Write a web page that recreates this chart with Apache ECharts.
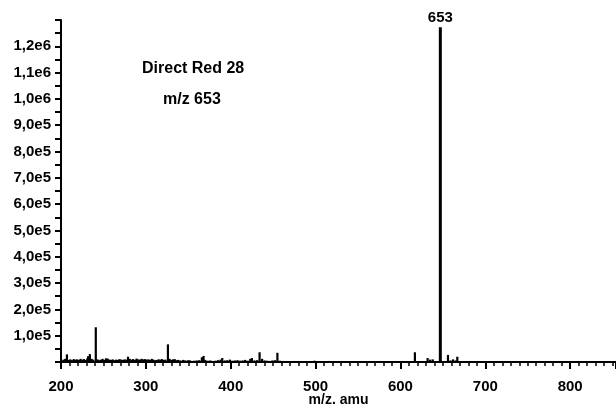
<!DOCTYPE html>
<html>
<head>
<meta charset="utf-8">
<script src="https://cdn.jsdelivr.net/npm/echarts@6/dist/echarts.min.js"></script>
<style>html,body{margin:0;padding:0;background:#fff;}#c{width:616px;height:408px;}</style>
</head>
<body>
<div id="c"></div>
<script>
// m/z positions of the sticks (as placed on the drawn axis)
const mzValues = [201,203,205,207,209,211,213,215,217,219,221,223,225,227,229,231,232,234,236,238,241,243,245,247,249,251,253,255,257,259,261,263,265,267,269,271,273,275,277,279,281,283,285,287,289,291,293,295,297,299,301,303,305,307,309,311,313,315,317,319,321,323,326,328,330,332,334,336,338,340,342,344,346,348,350,352,354,357,360,363,366,368,370,373,376,379,382,385,388,390,393,396,399,402,405,408,411,414,417,420,423,425,428,431,434,437,440,443,446,449,452,455,458,462,466,473,490,499,516,617,632,635,638,647,652,656,659,662,665,667,670];
// intensities (counts)
const intensities = [6000,9000,12000,29000,8000,10000,7000,11000,9000,10000,8000,12000,9000,11000,8000,14000,22000,30000,12000,9000,132000,10000,7000,9000,12000,8000,14000,13000,9000,8000,10000,7000,9000,8000,11000,9000,8000,10000,9000,20000,12000,9000,11000,8000,13000,10000,9000,12000,10000,11000,9000,10000,8000,12000,9000,7000,8000,10000,9000,11000,8000,9000,67000,12000,8000,10000,11000,7000,8000,6000,5000,8000,6000,5000,7000,6000,4000,5000,6000,7000,18000,23000,8000,5000,6000,4000,5000,7000,9000,15000,6000,7000,9000,5000,6000,7000,5000,6000,8000,5000,12000,15000,6000,7000,37000,12000,6000,5000,4000,6000,7000,35000,5000,4000,3000,4000,3000,5000,4000,37000,15000,9000,10000,1272600,4000,27000,6000,10000,6000,20000,3000];
const mainPeakLabel = '653';
const xTicks = {min: 200, max: 854, interval: 100};
const yTicks = {min: 0, max: 1300000, interval: 100000};
const annotation = ['Direct Red 28', 'm/z 653'];
const xName = 'm/z. amu';

const data = mzValues.map((m, i) => [m, intensities[i]]);
const maxIdx = intensities.indexOf(Math.max(...intensities));

const FONT = '"Liberation Sans", Arial, sans-serif';

function yFmt(v) {
  if (v <= 0 || v >= 1300000) return '';
  const e = Math.floor(Math.log10(v) + 1e-9);
  const m = v / Math.pow(10, e);
  return m.toFixed(1).replace('.', ',') + 'e' + e;
}

const chart = echarts.init(document.getElementById('c'), null, {renderer: 'canvas'});
chart.setOption({
  animation: false,
  backgroundColor: '#fff',
  grid: {left: 61, right: 0, top: 20, bottom: 46, containLabel: false, outerBoundsMode: 'none'},
  xAxis: {
    type: 'value', min: xTicks.min, max: xTicks.max, interval: xTicks.interval,
    name: xName, nameLocation: 'middle', nameGap: 38, nameMoveOverlap: false,
    nameTextStyle: {color: '#000', fontFamily: FONT, fontWeight: 'bold', fontSize: 14, verticalAlign: 'middle'},
    axisLine: {show: true, lineStyle: {color: '#000', width: 2}},
    axisTick: {show: true, length: 7, lineStyle: {color: '#000', width: 2}},
    minorTick: {show: true, splitNumber: 10, length: 4, lineStyle: {color: '#000', width: 1.5}},
    axisLabel: {color: '#000', fontFamily: FONT, fontWeight: 'bold', fontSize: 15, margin: 17,
      formatter: v => (v % 100 === 0 ? String(v) : '')},
    splitLine: {show: false}, minorSplitLine: {show: false}
  },
  yAxis: {
    type: 'value', min: yTicks.min, max: yTicks.max, interval: yTicks.interval,
    axisLine: {show: true, lineStyle: {color: '#000', width: 2}},
    axisTick: {show: true, length: 6, lineStyle: {color: '#000', width: 2}},
    minorTick: {show: true, splitNumber: 2, length: 6, lineStyle: {color: '#000', width: 2}},
    axisLabel: {color: '#000', fontFamily: FONT, fontWeight: 'bold', fontSize: 15, margin: 10, formatter: yFmt},
    splitLine: {show: false}, minorSplitLine: {show: false}
  },
  graphic: [
    {type: 'text', left: 142, top: 61, style: {text: annotation[0], fill: '#000', font: 'bold 16px ' + FONT}},
    {type: 'text', left: 163, top: 92, style: {text: annotation[1], fill: '#000', font: 'bold 16px ' + FONT}}
  ],
  series: [
    {
      type: 'custom',
      data: data,
      clip: true,
      renderItem: function (params, api) {
        const x = api.value(0), y = api.value(1);
        const p0 = api.coord([x, 0]);
        const p1 = api.coord([x, y]);
        return {
          type: 'line',
          shape: {x1: p0[0], y1: p0[1], x2: p1[0], y2: p1[1]},
          style: {stroke: '#000', lineWidth: y > 500000 ? 3 : 2.2}
        };
      }
    },
    {
      type: 'scatter',
      symbolSize: 0,
      itemStyle: {opacity: 1},
      data: [data[maxIdx]],
      label: {show: true, position: 'top', distance: 2, formatter: mainPeakLabel,
        color: '#000', fontFamily: FONT, fontWeight: 'bold', fontSize: 15}
    }
  ]
});
</script>
</body>
</html>
